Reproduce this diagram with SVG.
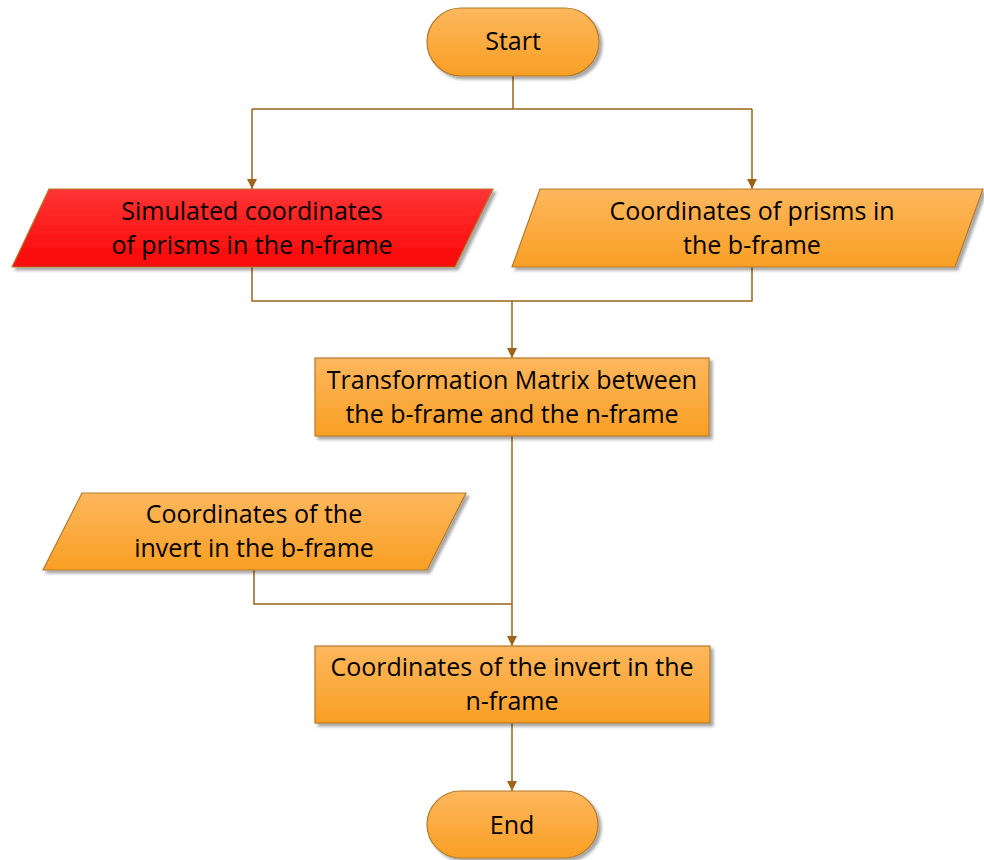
<svg xmlns="http://www.w3.org/2000/svg" width="984" height="860" viewBox="0 0 984 860">
  <defs>
    <linearGradient id="orange" x1="0" y1="0" x2="0" y2="1">
      <stop offset="0" stop-color="#FDB75D"/>
      <stop offset="1" stop-color="#F99F24"/>
    </linearGradient>
    <linearGradient id="red" x1="0" y1="0" x2="0" y2="1">
      <stop offset="0" stop-color="#FF3535"/>
      <stop offset="1" stop-color="#FA0606"/>
    </linearGradient>
    <filter id="shadow" x="-10%" y="-20%" width="130%" height="150%">
      <feGaussianBlur in="SourceAlpha" stdDeviation="1.5"/>
      <feOffset dx="3" dy="3" result="b"/>
      <feComponentTransfer><feFuncA type="linear" slope="0.35"/></feComponentTransfer>
      <feMerge><feMergeNode/><feMergeNode in="SourceGraphic"/></feMerge>
    </filter>
    <marker id="arrow" viewBox="0 0 10 10" refX="10" refY="5" markerWidth="10" markerHeight="10" markerUnits="userSpaceOnUse" orient="auto">
      <path d="M0,0 L10,5 L0,10 z" fill="#9A6419"/>
    </marker>
  </defs>
  <style>
    .shape { stroke: #B27A2C; stroke-width: 1.2; filter: url(#shadow); }
    .fill-o { fill: url(#orange); }
    .fill-r { fill: url(#red); }
    .label { font-family: "Open Sans", "Noto Sans", sans-serif; font-size: 25px; fill: #000; text-anchor: middle; }
    .conn { fill: none; stroke: #9A6419; stroke-width: 1.5; }
  </style>

  <g id="connectors">
    <path class="conn" d="M513,76 V109 M252,109 H752"/>
    <path class="conn" d="M252,109 V189" marker-end="url(#arrow)"/>
    <path class="conn" d="M752,109 V189" marker-end="url(#arrow)"/>
    <path class="conn" d="M252,267 V301 H752 V267"/>
    <path class="conn" d="M512,301 V358" marker-end="url(#arrow)"/>
    <path class="conn" d="M512,436 V646" marker-end="url(#arrow)"/>
    <path class="conn" d="M254,570 V604 H512"/>
    <path class="conn" d="M512,723 V791" marker-end="url(#arrow)"/>
  </g>

  <g id="start">
    <rect class="shape fill-o" x="427" y="8" width="172" height="68" rx="34" ry="34"/>
    <text class="label" x="513" y="50">Start</text>
  </g>

  <g id="sim-coords-n">
    <polygon class="shape fill-r" points="49,189 493,189 455,267 12,267"/>
    <text class="label" x="252" y="220">Simulated coordinates</text>
    <text class="label" x="252" y="254">of prisms in the n-frame</text>
  </g>

  <g id="prism-coords-b">
    <polygon class="shape fill-o" points="540,189 983,189 955,267 512,267"/>
    <text class="label" x="752" y="220">Coordinates of prisms in</text>
    <text class="label" x="752" y="254">the b-frame</text>
  </g>

  <g id="transform-matrix">
    <rect class="shape fill-o" x="315" y="358" width="394" height="78"/>
    <text class="label" x="512" y="389">Transformation Matrix between</text>
    <text class="label" x="512" y="423">the b-frame and the n-frame</text>
  </g>

  <g id="invert-coords-b">
    <polygon class="shape fill-o" points="82,493 466,493 427,570 43,570"/>
    <text class="label" x="254" y="523">Coordinates of the</text>
    <text class="label" x="254" y="557">invert in the b-frame</text>
  </g>

  <g id="invert-coords-n">
    <rect class="shape fill-o" x="315" y="646" width="395" height="77"/>
    <text class="label" x="512" y="676">Coordinates of the invert in the</text>
    <text class="label" x="512" y="710">n-frame</text>
  </g>

  <g id="end">
    <rect class="shape fill-o" x="427" y="791" width="171" height="67" rx="33.5" ry="33.5"/>
    <text class="label" x="512" y="834">End</text>
  </g>
</svg>
